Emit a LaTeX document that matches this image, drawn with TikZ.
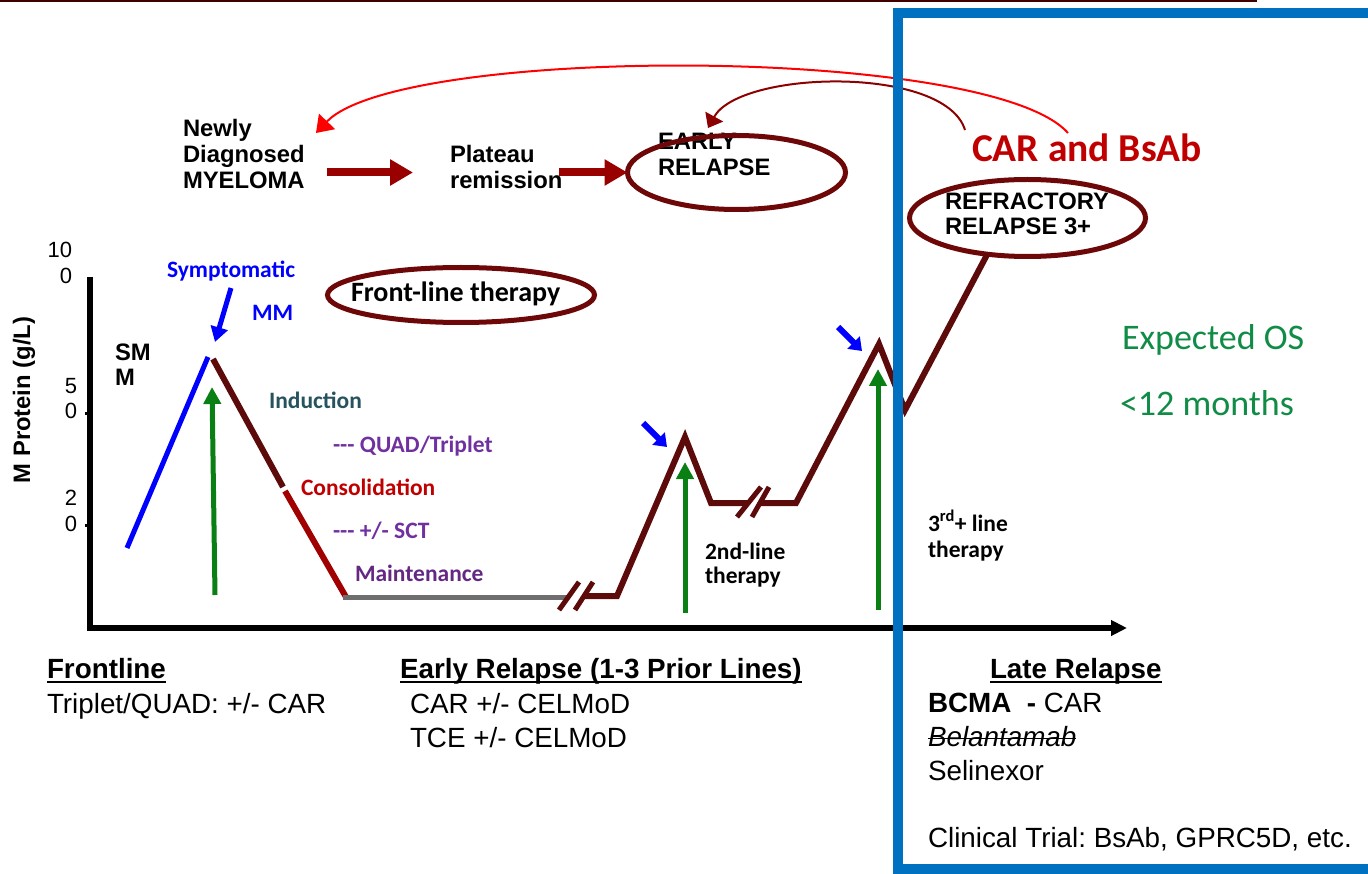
\documentclass[tikz,border=0pt]{standalone}
\usepackage{fontspec}
\setmainfont{Liberation Sans}
\newfontfamily\calfont{Carlito}
\usetikzlibrary{arrows.meta,shapes.geometric}
\frenchspacing

\definecolor{topline}{RGB}{64,0,0}
\definecolor{tracecol}{RGB}{92,10,10}
\definecolor{ringcol}{RGB}{110,8,8}
\definecolor{flowcol}{RGB}{153,0,0}
\definecolor{consline}{RGB}{160,0,0}
\definecolor{txtred}{RGB}{192,0,0}
\definecolor{arcred}{RGB}{255,0,0}
\definecolor{arcdark}{RGB}{140,0,0}
\definecolor{cueblue}{RGB}{0,0,255}
\definecolor{boxblue}{RGB}{0,112,192}
\definecolor{arrowgreen}{RGB}{10,128,20}
\definecolor{osgreen}{RGB}{16,140,70}
\definecolor{plum}{RGB}{112,48,160}
\definecolor{darkplum}{RGB}{100,40,130}
\definecolor{teal}{RGB}{38,83,94}
\definecolor{maintgray}{RGB}{110,110,110}

\newcommand\flowfont{\fontsize{23.8}{26}\selectfont\bfseries}
\newcommand\calbold{\calfont\bfseries\fontsize{23.5}{26}\selectfont}
\newcommand\botfont{\fontsize{27.8}{30}\selectfont}
\newcommand\tickfont{\fontsize{22}{24}\selectfont}

\begin{document}
\begin{tikzpicture}[x=1pt,y=-1pt,
  lbl/.style={inner sep=0pt,outer sep=0pt,anchor=base west},
  flowtxt/.style={lbl,font=\flowfont},
  callbl/.style={lbl,font=\calbold},
  bottxt/.style={lbl,font=\botfont},
  ticklbl/.style={inner sep=0pt,outer sep=0pt,anchor=base east,font=\tickfont},
  ring/.style={ellipse,draw=ringcol,line width=5pt,inner sep=0pt,outer sep=0pt},
  trace/.style={line width=6pt,draw=tracecol},
  breakmark/.style={line width=5pt,draw=tracecol},
  flowarrow/.style={line width=8pt,draw=flowcol,-{Triangle[length=23pt,width=25pt]}},
  greenarrow/.style={line width=5pt,draw=arrowgreen,-{Triangle[length=17pt,width=17pt]}},
  cue/.style={line width=6pt,draw=cueblue,-{Triangle[length=12pt,width=17pt]}},
  rule/.style={line width=1.8pt},
]
\useasboundingbox (0,0) rectangle (1368,874);
\clip (0,0) rectangle (1368,874);

% header rule
\draw[line width=2.5pt,draw=topline] (0,1) -- (1257,1);

% ---------- disease course flow ----------
\node[flowtxt] (nd1) at (183,137) {Newly};
\node[flowtxt] (nd2) at (183,163) {Diagnosed};
\node[flowtxt] (nd3) at (183,189) {MYELOMA};
\node[flowtxt] (pl1) at (450,163) {Plateau};
\node[flowtxt] (pl2) at (450,189) {remission};
\node[flowtxt] (er1) at (658,150) {EARLY};
\node[flowtxt] (er2) at (658,176) {RELAPSE};
\node[ring,minimum width=218pt,minimum height=74pt] (erl) at (736.5,172.5) {};
\node[flowtxt] (rf1) at (945,210) {REFRACTORY};
\node[flowtxt] (rf2) at (945,235) {RELAPSE 3+};
\node[ring,minimum width=236pt,minimum height=77pt] (refr) at (1027.5,218) {};

\draw[flowarrow] ([xshift=22pt]nd2.east |- erl.center) -- ([xshift=-37pt]pl1.west |- erl.center);
\draw[flowarrow] ([xshift=-3pt]pl2.east |- erl.center) -- (erl.west);

% CAR / BsAb loops back to earlier stages
\node[lbl,font=\calfont\bfseries\fontsize{39.5}{42}\selectfont,text=txtred] (carbs) at (972,162) {CAR and BsAb};
\coordinate (redfrom) at (1068,133);
\coordinate (redto) at (316,133);
\coordinate (darkfrom) at (965,130);
\coordinate (darkto) at (708,128);
\draw[line width=2pt,draw=arcred,-{Triangle[length=16pt,width=22pt]}]
  (redfrom) .. controls (990,45) and (400,45) .. (redto);
\draw[line width=2pt,draw=arcdark,-{Triangle[length=13pt,width=20pt]}]
  (darkfrom) .. controls (945,65) and (740,70) .. (darkto);

% ---------- axes ----------
\draw[line width=6pt,-{Triangle[length=16pt,width=15pt]}] (90,277) -- (90,628) -- (1127,628);
\draw[line width=3pt] (85,413) -- (90,413);
\draw[line width=3pt] (85,525) -- (90,525);
\node[ticklbl] (t100a) at (72,258) {10};
\node[ticklbl] (t100b) at (72,284) {0};
\node[ticklbl] (t50a) at (77,393) {5};
\node[ticklbl] (t50b) at (77,418) {0};
\node[ticklbl] (t20a) at (77,505) {2};
\node[ticklbl] (t20b) at (77,531) {0};
\node[inner sep=0pt,anchor=base,rotate=90,font=\flowfont] (ylab) at (30,400) {M Protein (g/L)};

% ---------- M-protein course ----------
\node[flowtxt] (smm1) at (115,361) {SM};
\node[flowtxt] (smm2) at (115,385) {M};
\node[callbl,text=cueblue] (sym1) at (167,278) {Symptomatic};
\node[callbl,text=cueblue] (sym2) at (252,321) {MM};
\draw[line width=5pt,draw=cueblue,-{Triangle[length=15pt,width=17pt]}] (231,288) -- (215,342);

\draw[line width=5pt,draw=cueblue] (127,548) -- (208,357);
\draw[trace] (213,359) -- (283,487);
\draw[line width=6pt,draw=consline] (285,491) -- (346,597);
\draw[line width=5pt,draw=maintgray] (343,597) -- (568,597);

\draw[breakmark] (559,610) -- (579,582);
\draw[breakmark] (575,610) -- (593,582);
\draw[trace,line join=miter] (584,596) -- (617,596) -- (685,437) -- (711,503) -- (748,503);
\draw[breakmark] (737,517) -- (761,487);
\draw[breakmark] (752,517) -- (769,487);
\draw[trace,line join=miter] (760,503) -- (796,503) -- (879,344) -- (905,410) -- (refr.222);

\draw[greenarrow] (215,595) -- (212,387);
\draw[greenarrow] (685,613) -- (685,462);
\draw[greenarrow] (878,610) -- (878,369);

\draw[cue] (643,423) -- (667,447);
\draw[cue] (838,327) -- (862,351);

% therapy labels
\node[ring,minimum width=267pt,minimum height=55pt] (fl) at (461,295) {};
\node[lbl,font=\calfont\bfseries\fontsize{28}{30}\selectfont] (fltxt) at (351,302) {Front-line therapy};
\node[callbl,text=teal] (ind) at (269,408) {Induction};
\node[callbl,text=plum] (quad) at (333,452) {--- QUAD/Triplet};
\node[callbl,text=txtred] (cons) at (301,495) {Consolidation};
\node[callbl,text=plum] (sct) at (333,538) {--- +/- SCT};
\node[callbl,text=darkplum] (maint) at (355,581) {Maintenance};
\node[callbl] (sl1) at (705,559) {2nd-line};
\node[callbl] (sl2) at (705,583) {therapy};
\node[callbl] (tl1) at (928,531) {3\textsuperscript{rd}+ line};
\node[callbl] (tl2) at (928,557) {therapy};

\node[lbl,font=\calfont\fontsize{36}{40}\selectfont,text=osgreen] (os1) at (1122,350) {Expected OS};
\node[lbl,font=\calfont\fontsize{36}{40}\selectfont,text=osgreen] (os2) at (1120,415) {<12 months};

% ---------- treatment options ----------
\node[bottxt] (fr0) at (47,678) {\textbf{Frontline}};
\node[bottxt] (fr1) at (47,713) {Triplet/QUAD: +/- CAR};
\node[bottxt] (ea0) at (400,678) {\textbf{Early Relapse (1-3 Prior Lines)}};
\node[bottxt] (ea1) at (410,713) {CAR +/- CELMoD};
\node[bottxt] (ea2) at (410,747) {TCE +/- CELMoD};
\node[bottxt] (la0) at (990,678) {\textbf{Late Relapse}};
\node[bottxt] (la1) at (928,712) {\textbf{BCMA \ -} CAR};
\node[bottxt] (la2) at (928,746) {\textit{Belantamab}};
\node[bottxt] (la3) at (928,780) {Selinexor};
\node[bottxt] (la4) at (928,847) {Clinical Trial: BsAb, GPRC5D, etc.};

% heading underlines and struck-out agent
\foreach \h in {fr0,ea0,la0}
  \draw[rule] ([yshift=-4pt]\h.base west) -- ([yshift=-4pt]\h.base east);
\draw[line width=1.4pt] ([yshift=7.5pt]la2.base west) -- ([yshift=7.5pt]la2.base east);

% late-relapse frame
\draw[line width=10pt,draw=boxblue] (898,13) rectangle (1376,869);
\end{tikzpicture}
\end{document}
